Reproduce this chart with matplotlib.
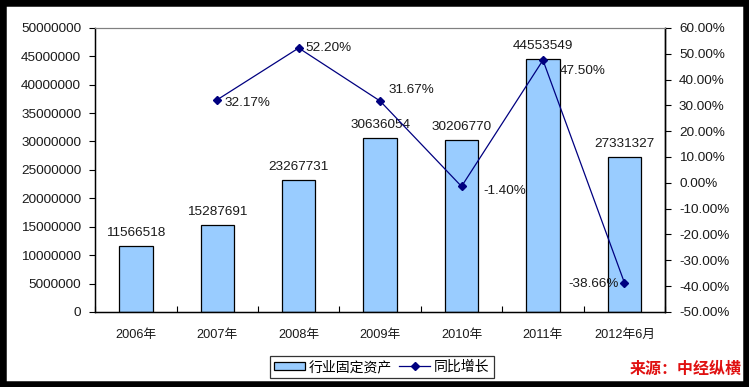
import numpy as np
import matplotlib.pyplot as plt
from matplotlib.patches import Rectangle
from matplotlib.ticker import FuncFormatter, MultipleLocator

plt.rcParams['font.family'] = ['Liberation Sans', 'Noto Sans CJK SC']

categories = ['2006年', '2007年', '2008年', '2009年', '2010年', '2011年', '2012年6月']
assets = [11566518, 15287691, 23267731, 30636054, 30206770, 44553549, 27331327]
growth = [np.nan, 32.17, 52.20, 31.67, -1.40, 47.50, -38.66]
growth_labels = ['', '32.17%', '52.20%', '31.67%', '-1.40%', '47.50%', '-38.66%']
# label offsets in points (dx, dy, ha)
growth_offsets = [None, (5, -2, 'left'), (5, 0, 'left'), (6, 8, 'left'),
                  (16, -3, 'left'), (12, -8, 'left'), (-4, -1, 'right')]

fs = 9.7
txt = '#1a1a1a'

fig = plt.figure(figsize=(7.49, 3.87), dpi=100)
ax = fig.add_axes([0.127, 0.194, 0.761, 0.734])
x = np.arange(len(categories))

ax.bar(x, assets, width=0.41, color='#99CCFF', edgecolor='black', linewidth=0.9, zorder=2)
for xi, v in zip(x, assets):
    ax.annotate(str(v), (xi, v), xytext=(0, 5), textcoords='offset points',
                ha='center', va='bottom', fontsize=fs, color=txt)

ax.set_xlim(-0.5, len(categories) - 0.5)
ax.set_ylim(0, 50000000)
ax.yaxis.set_major_locator(MultipleLocator(5000000))
ax.yaxis.set_major_formatter(FuncFormatter(lambda v, p: '%d' % v))
ax.set_xticks(x)
ax.set_xticklabels(categories, fontsize=fs - 0.5, color=txt)
ax.set_xticks(np.arange(-0.5, len(categories)), minor=True)
ax.tick_params(axis='x', which='major', length=0, pad=12)
ax.tick_params(axis='x', which='minor', direction='in', length=4, width=0.8)
ax.tick_params(axis='y', direction='out', length=4, width=0.8, labelsize=fs, labelcolor=txt, pad=6)
for s in ['left', 'bottom', 'right']:
    ax.spines[s].set_linewidth(1.0)
ax.spines['top'].set_color('#808080')

ax2 = ax.twinx()
ax2.plot(x, growth, color='#000080', linewidth=0.9, marker='D', markersize=4.5, zorder=3)
ax2.set_ylim(-50, 60)
ax2.yaxis.set_major_locator(MultipleLocator(10))
ax2.yaxis.set_major_formatter(FuncFormatter(lambda v, p: '%.2f%%' % v))
ax2.tick_params(axis='y', direction='out', length=4, width=0.8, labelsize=fs, labelcolor=txt, pad=6)
ax2.spines['top'].set_color('#808080')
ax2.spines['right'].set_linewidth(1.0)
for xi, g, lab, off in zip(x, growth, growth_labels, growth_offsets):
    if off is None:
        continue
    ax2.annotate(lab, (xi, g), xytext=(off[0], off[1]), textcoords='offset points',
                 ha=off[2], va='center', fontsize=fs, color=txt)

h1 = Rectangle((0, 0), 1, 1, facecolor='#99CCFF', edgecolor='black', linewidth=0.9)
h2, = ax2.plot([], [], color='#000080', linewidth=0.9, marker='D', markersize=4.5)
leg = fig.legend([h1, h2], ['行业固定资产', '同比增长'], loc='center', bbox_to_anchor=(0.51, 0.052),
                 ncol=2, frameon=True, fancybox=False, fontsize=fs + 0.3, handlelength=2.2,
                 handletextpad=0.3, columnspacing=0.5, borderpad=0.3, handleheight=0.6)
leg.get_frame().set_edgecolor('black')
leg.get_frame().set_linewidth(0.9)

fig.text(0.99, 0.045, '来源：中经纵横', color='#e01010', fontsize=11.5, fontweight='bold',
         style='italic', ha='right', va='center')

fig.patches.append(Rectangle((0, 0), 1, 1, transform=fig.transFigure, fill=False,
                             edgecolor='black', linewidth=9, zorder=10))

fig.savefig('out.png', dpi=100)
